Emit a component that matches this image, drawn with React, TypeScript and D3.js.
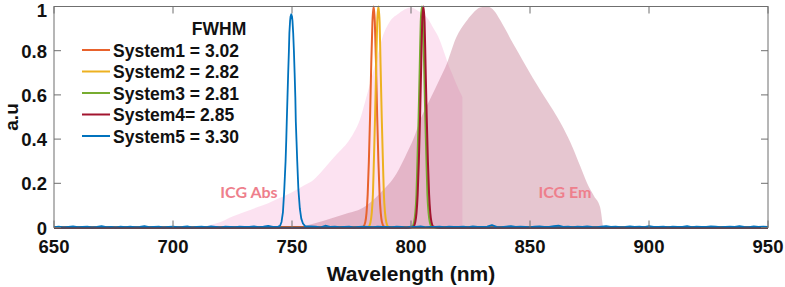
import React from "react";
import * as d3 from "d3";

// ---------- data ----------
const xTicks = [650, 700, 750, 800, 850, 900, 950];
const yTicks = [0, 0.2, 0.4, 0.6, 0.8, 1];
const yTickLabels = ["0", "0.2", "0.4", "0.6", "0.8", "1"];

const seriesNames = ["System1 = 3.02", "System2 = 2.82", "System3 = 2.81", "System4= 2.85", "System5 = 3.30"];
const seriesColors = ["#E8622C", "#EDB120", "#77AC30", "#A2142F", "#0072BD"];

// ICG absorption (wavelength nm, a.u)
const icgAbs: [number, number][] = [
  [711, 0], [716, 0.012], [720, 0.025], [725, 0.05], [730, 0.07], [735, 0.09], [740, 0.11], [744, 0.13],
  [750, 0.16], [755, 0.19], [759, 0.215], [763, 0.26], [767, 0.31], [770, 0.345], [773, 0.38], [776, 0.43],
  [778.6, 0.49], [781, 0.58], [784, 0.7], [786, 0.78], [788, 0.86], [791, 0.93], [795, 0.97], [798, 0.99],
  [800, 0.995], [803, 0.98], [806.7, 0.95], [809.5, 0.9], [812, 0.85], [814, 0.79], [815.6, 0.74],
  [817.5, 0.69], [819, 0.65], [821.6, 0.59],
];

// ICG emission (wavelength nm, a.u)
const icgEm: [number, number][] = [
  [753, 0], [760, 0.02], [766, 0.04], [772, 0.06], [780, 0.09], [787, 0.155], [794, 0.245], [798, 0.33],
  [801, 0.4], [804, 0.49], [808, 0.58], [812, 0.67], [815, 0.74], [819, 0.86], [823, 0.93], [826, 0.97],
  [829, 0.995], [832, 1.0], [835, 0.98], [837.4, 0.94], [840, 0.89], [843, 0.83], [847, 0.755], [851, 0.68],
  [855, 0.61], [859.7, 0.53], [864, 0.45], [868, 0.36], [871, 0.28], [874, 0.2], [877, 0.14], [879.4, 0.094],
  [880.7, 0],
];

// filter spectra peaks (wavelength nm, a.u)
const system1: [number, number][] = [
  [650, 0], [778, 0], [779.8, 0.003], [780.8, 0.025], [781.3, 0.065], [781.8, 0.15], [782.3, 0.3],
  [782.8, 0.5], [783.3, 0.74], [783.8, 0.93], [784.3, 1.0], [784.8, 0.93], [785.3, 0.74], [785.8, 0.5],
  [786.3, 0.3], [786.8, 0.15], [787.3, 0.065], [787.8, 0.025], [788.8, 0.003], [791, 0], [950, 0],
];
const system2: [number, number][] = [
  [650, 0], [780, 0], [782.1, 0.003], [783.0, 0.025], [783.5, 0.065], [784.0, 0.15], [784.4, 0.3],
  [784.9, 0.5], [785.4, 0.74], [785.8, 0.93], [786.3, 1.0], [786.8, 0.93], [787.2, 0.74], [787.7, 0.5],
  [788.2, 0.3], [788.6, 0.15], [789.1, 0.065], [789.6, 0.025], [790.5, 0.003], [793, 0], [950, 0],
];
const system3: [number, number][] = [
  [650, 0], [798, 0], [800.4, 0.003], [801.3, 0.025], [801.8, 0.065], [802.3, 0.15], [802.7, 0.3],
  [803.2, 0.5], [803.7, 0.74], [804.1, 0.93], [804.6, 1.0], [805.1, 0.93], [805.5, 0.74], [806.0, 0.5],
  [806.5, 0.3], [806.9, 0.15], [807.4, 0.065], [807.9, 0.025], [808.8, 0.003], [811, 0], [950, 0],
];
const system4: [number, number][] = [
  [650, 0], [799, 0], [800.9, 0.003], [801.8, 0.025], [802.3, 0.065], [802.8, 0.15], [803.3, 0.3],
  [803.8, 0.5], [804.3, 0.74], [804.7, 0.93], [805.2, 1.0], [805.7, 0.93], [806.1, 0.74], [806.6, 0.5],
  [807.1, 0.3], [807.6, 0.15], [808.1, 0.065], [808.6, 0.025], [809.5, 0.003], [812, 0], [950, 0],
];
const system5Peak: [number, number][] = [
  [744.2, 0.004], [745.0, 0.008], [745.6, 0.025], [746.2, 0.07], [746.7, 0.16], [747.0, 0.23], [747.3, 0.3],
  [747.6, 0.4], [747.8, 0.48], [748.1, 0.59], [748.4, 0.7], [748.7, 0.8], [748.9, 0.88], [749.2, 0.935],
  [749.4, 0.955], [749.7, 0.965], [750.0, 0.955], [750.2, 0.935], [750.5, 0.88], [750.8, 0.8], [751.1, 0.7],
  [751.4, 0.59], [751.6, 0.48], [751.9, 0.39], [752.2, 0.3], [752.5, 0.22], [752.7, 0.17], [753.3, 0.085],
  [753.9, 0.04], [754.6, 0.018], [755.5, 0.006],
];
// System5 baseline noise, 650..950 nm every 2 nm
const system5Baseline = [
  0.002, 0.004, 0.001, 0.003, 0.005, 0.002, 0.003, 0.004, 0.001, 0.003,
  0.006, 0.002, 0.003, 0.001, 0.004, 0.002, 0.004, 0.002, 0.003, 0.006,
  0.002, 0.003, 0.004, 0.001, 0.003, 0.004, 0.002, 0.003, 0.005, 0.001,
  0.003, 0.004, 0.002, 0.005, 0.003, 0.001, 0.004, 0.003, 0.002, 0.004,
  0.003, 0.003, 0.005, 0.002, 0.004, 0.007, 0.003, 0.003, 0.002, 0.004,
  0.003, 0.003, 0.004, 0.002, 0.005, 0.004, 0.001, 0.008, 0.003, 0.004,
  0.002, 0.003, 0.004, 0.001, 0.003, 0.004, 0.003, 0.002, 0.004, 0.003,
  0.003, 0.002, 0.004, 0.003, 0.001, 0.004, 0.003, 0.005, 0.002, 0.003,
  0.003, 0.004, 0.002, 0.004, 0.003, 0.003, 0.004, 0.002, 0.005, 0.003,
  0.003, 0.004, 0.011, 0.003, 0.002, 0.004, 0.006, 0.003, 0.004, 0.003,
  0.002, 0.004, 0.005, 0.003, 0.003, 0.006, 0.008, 0.003, 0.004, 0.002,
  0.004, 0.003, 0.005, 0.003, 0.002, 0.004, 0.006, 0.003, 0.004, 0.002,
  0.003, 0.005, 0.003, 0.004, 0.002, 0.006, 0.003, 0.003, 0.004, 0.002,
  0.004, 0.003, 0.003, 0.006, 0.002, 0.004, 0.003, 0.003, 0.005, 0.004,
  0.002, 0.003, 0.004, 0.003, 0.006, 0.003, 0.002, 0.005, 0.003, 0.004,
  0.003,
];

const legendTitle = "FWHM";
const absLabel = "ICG Abs";
const emLabel = "ICG Em";
const xTitle = "Wavelength (nm)";
const yTitle = "a.u";

// ---------- layout ----------
const W = 785;
const H = 287;
const x = d3.scaleLinear().domain([650, 950]).range([54, 768]);
const y = d3.scaleLinear().domain([0, 1]).range([227.5, 6.5]);

const FONT = "'Liberation Sans', Arial, sans-serif";

export default function App() {
  const system5: [number, number][] = [
    ...system5Baseline
      .map((v, i) => [650 + 2 * i, v] as [number, number])
      .filter((p) => p[0] < 744),
    ...system5Peak,
    ...system5Baseline
      .map((v, i) => [650 + 2 * i, v] as [number, number])
      .filter((p) => p[0] > 756),
  ];
  const allSeries = [system1, system2, system3, system4, system5];

  const smoothLine = d3
    .line<[number, number]>()
    .x((d) => x(d[0]))
    .y((d) => y(d[1]))
    .curve(d3.curveMonotoneX);
  const rawLine = d3
    .line<[number, number]>()
    .x((d) => x(d[0]))
    .y((d) => y(d[1]))
    .curve(d3.curveLinear);
  const area = d3
    .area<[number, number]>()
    .x((d) => x(d[0]))
    .y0(y(0))
    .y1((d) => y(d[1]))
    .curve(d3.curveMonotoneX);

  const [x0, x1] = x.range();
  const [yb, yt] = y.range();
  const tickLen = 7;
  const legendY0 = 50;
  const legendDy = 21.5;

  return (
    <svg
      width={W}
      height={H}
      style={{ position: "fixed", left: 0, top: 0, background: "#fff" }}
    >
      <rect x={0} y={0} width={W} height={H} fill="#fff" />
      {/* spectra fills */}
      <path d={area(icgAbs) || ""} fill="#f7b6dc" fillOpacity={0.4} />
      <path d={area(icgEm) || ""} fill="#c47890" fillOpacity={0.42} />

      {/* lines */}
      {allSeries.map((s, i) => (
        <path
          key={i}
          d={(i === 4 ? rawLine(s) : smoothLine(s)) || ""}
          fill="none"
          stroke={seriesColors[i]}
          strokeWidth={i === 4 ? 1.8 : 2}
          strokeLinejoin="round"
        />
      ))}

      {/* axes box */}
      <rect x={x0} y={yt} width={x1 - x0} height={yb - yt} fill="none" stroke="#6f6f6f" strokeWidth={1} />
      <line x1={x0} x2={x1} y1={yb + 0.5} y2={yb + 0.5} stroke="#1c2f66" strokeWidth={1.2} />
      {xTicks.map((t) => (
        <g key={"xt" + t}>
          <line x1={x(t)} x2={x(t)} y1={yb} y2={yb - tickLen} stroke="#6f6f6f" />
          <line x1={x(t)} x2={x(t)} y1={yt} y2={yt + tickLen} stroke="#6f6f6f" />
          <text
            x={x(t)}
            y={253}
            textAnchor="middle"
            fontFamily={FONT}
            fontWeight="bold"
            fontSize={18.5}
            fill="#111"
          >
            {t}
          </text>
        </g>
      ))}
      {yTicks.map((t, i) => (
        <g key={"yt" + t}>
          <line x1={x0} x2={x0 + tickLen} y1={y(t)} y2={y(t)} stroke="#6f6f6f" />
          <line x1={x1} x2={x1 - tickLen} y1={y(t)} y2={y(t)} stroke="#6f6f6f" />
          <text
            x={47}
            y={t === 1 ? 17 : y(t) + 7}
            textAnchor="end"
            fontFamily={FONT}
            fontWeight="bold"
            fontSize={18.5}
            fill="#111"
          >
            {yTickLabels[i]}
          </text>
        </g>
      ))}

      {/* axis titles */}
      <text
        x={(x0 + x1) / 2}
        y={281}
        textAnchor="middle"
        fontFamily={FONT}
        fontWeight="bold"
        fontSize={21}
        fill="#111"
      >
        {xTitle}
      </text>
      <text
        transform={`translate(18, ${(yb + yt) / 2}) rotate(-90)`}
        textAnchor="middle"
        fontFamily={FONT}
        fontWeight="bold"
        fontSize={19}
        fill="#111"
      >
        {yTitle}
      </text>

      {/* spectrum labels */}
      <text x={249} y={198} textAnchor="middle" fontFamily="Lato, 'Open Sans', sans-serif" fontWeight="bold" fontSize={16} fill="#ee7f8c">
        {absLabel}
      </text>
      <text x={565} y={198} textAnchor="middle" fontFamily="Lato, 'Open Sans', sans-serif" fontWeight="bold" fontSize={16} fill="#ee7f8c">
        {emLabel}
      </text>

      {/* legend */}
      <text x={219} y={35} textAnchor="middle" fontFamily={FONT} fontWeight="bold" fontSize={17.5} fill="#111">
        {legendTitle}
      </text>
      {seriesNames.map((n, i) => {
        const ly = legendY0 + i * legendDy;
        return (
          <g key={n}>
            <line x1={82} x2={110} y1={ly} y2={ly} stroke={seriesColors[i]} strokeWidth={2} />
            <text x={113} y={ly + 6.5} fontFamily={FONT} fontWeight="bold" fontSize={17.5} fill="#111">
              {n}
            </text>
          </g>
        );
      })}
    </svg>
  );
}
